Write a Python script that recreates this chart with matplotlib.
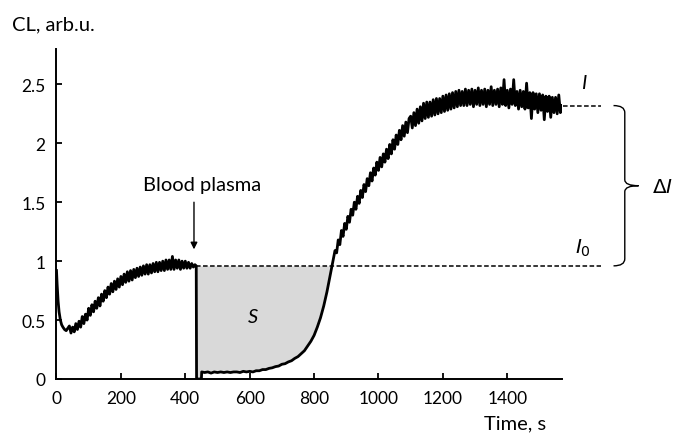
import matplotlib
matplotlib.use("Agg")
import matplotlib.pyplot as plt
from matplotlib.path import Path
from matplotlib.patches import PathPatch
import numpy as np

# chemiluminescence trace
t_pre = [0, 2, 5, 8, 12, 16, 20, 25, 30, 35,
         40, 45, 50, 55, 60, 65, 70, 75, 80, 85, 90, 95, 100, 105, 110, 115, 120, 125, 130, 135,
         140, 145, 150, 155, 160, 165, 170, 175, 180, 185, 190, 195, 200, 205, 210, 215, 220, 225, 230, 235,
         240, 245, 250, 255, 260, 265, 270, 275, 280, 285, 290, 295, 300, 305, 310, 315, 320, 325, 330, 335,
         340, 345, 350, 355, 360, 365, 370, 375, 380, 385, 390, 395, 400, 405, 410, 415, 420, 425, 430, 434]
cl_pre = [0.92, 0.80, 0.66, 0.57, 0.50, 0.46, 0.44, 0.42, 0.41, 0.43,
          0.45, 0.39, 0.44, 0.40, 0.47, 0.42, 0.49, 0.44, 0.53, 0.47, 0.55, 0.50, 0.60, 0.54, 0.63, 0.57, 0.66, 0.60, 0.69, 0.62,
          0.72, 0.66, 0.75, 0.69, 0.78, 0.72, 0.81, 0.74, 0.83, 0.76, 0.85, 0.78, 0.87, 0.80, 0.89, 0.82, 0.91, 0.83, 0.92, 0.84,
          0.93, 0.86, 0.94, 0.87, 0.95, 0.88, 0.96, 0.89, 0.97, 0.89, 0.97, 0.90, 0.98, 0.91, 0.99, 0.91, 0.99, 0.92, 1.00, 0.92,
          1.01, 0.93, 1.01, 0.93, 1.04, 0.93, 1.01, 0.94, 1.01, 0.93, 1.00, 0.94, 1.00, 0.94, 0.99, 0.94, 0.98, 0.95, 0.97, 0.96]

t_gap = [435, 450, 451]
cl_gap = [0.0, 0.0, 0.06]

t_low = [460, 470, 480, 490, 500, 510, 520, 530, 540, 550, 560, 570, 580, 590,
         600, 610, 620, 630, 640, 650, 660, 670, 680, 690, 700, 710, 720, 730,
         740, 750, 760, 770, 780, 790, 800, 810, 820, 830, 840, 850]
cl_low = [0.055, 0.06, 0.05, 0.06, 0.055, 0.06, 0.055, 0.06, 0.055, 0.06, 0.06,
          0.055, 0.065, 0.06, 0.065, 0.06, 0.07, 0.07, 0.08, 0.08, 0.09, 0.095,
          0.105, 0.11, 0.125, 0.13, 0.145, 0.155, 0.175, 0.19, 0.215, 0.24, 0.28,
          0.32, 0.37, 0.44, 0.52, 0.62, 0.74, 0.88]

t_rise = [860, 865, 870, 875, 880, 885, 890, 895, 900, 905, 910, 915, 920, 925, 930, 935,
          940, 945, 950, 955, 960, 965, 970, 975, 980, 985, 990, 995, 1000, 1005, 1010, 1015,
          1020, 1025, 1030, 1035, 1040, 1045, 1050, 1055, 1060, 1065, 1070, 1075, 1080, 1085, 1090, 1095]
cl_rise = [1.02, 1.09, 1.07, 1.18, 1.14, 1.26, 1.21, 1.32, 1.27, 1.38, 1.33, 1.44, 1.39, 1.50, 1.44, 1.55,
           1.49, 1.60, 1.54, 1.65, 1.59, 1.70, 1.64, 1.75, 1.68, 1.79, 1.73, 1.84, 1.77, 1.88, 1.80, 1.91,
           1.84, 1.95, 1.87, 1.99, 1.91, 2.03, 1.95, 2.07, 1.99, 2.11, 2.03, 2.15, 2.06, 2.18, 2.09, 2.21]

t_top = [1100, 1105, 1110, 1115, 1120, 1125, 1130, 1135, 1140, 1145, 1150, 1155, 1160, 1165, 1170, 1175,
         1180, 1185, 1190, 1195, 1200, 1205, 1210, 1215, 1220, 1225, 1230, 1235, 1240, 1245, 1250, 1255,
         1260, 1265, 1270, 1275, 1280, 1285, 1290, 1295, 1300, 1305, 1310, 1315, 1320, 1325, 1330, 1335,
         1340, 1345, 1350, 1355, 1360, 1365, 1370, 1375, 1380, 1385, 1390, 1395, 1400, 1405, 1410, 1415,
         1420, 1425, 1430, 1435, 1440, 1445, 1450, 1455, 1460, 1465, 1470, 1475, 1480, 1485, 1490, 1495,
         1500, 1505, 1510, 1515, 1520, 1525, 1530, 1535, 1540, 1545, 1550, 1555, 1560, 1565, 1570]
cl_top = [2.23, 2.13, 2.26, 2.15, 2.29, 2.17, 2.31, 2.19, 2.34, 2.21, 2.35, 2.22, 2.35, 2.23, 2.37, 2.24,
          2.38, 2.25, 2.38, 2.26, 2.40, 2.27, 2.41, 2.28, 2.42, 2.29, 2.43, 2.30, 2.44, 2.31, 2.45, 2.32,
          2.44, 2.32, 2.46, 2.32, 2.45, 2.33, 2.46, 2.31, 2.45, 2.33, 2.47, 2.32, 2.45, 2.33, 2.46, 2.31,
          2.45, 2.33, 2.48, 2.32, 2.45, 2.33, 2.46, 2.31, 2.47, 2.33, 2.54, 2.32, 2.45, 2.30, 2.46, 2.33,
          2.54, 2.32, 2.44, 2.29, 2.45, 2.31, 2.44, 2.29, 2.51, 2.30, 2.43, 2.21, 2.43, 2.29, 2.42, 2.26,
          2.42, 2.28, 2.41, 2.20, 2.40, 2.27, 2.40, 2.22, 2.39, 2.26, 2.39, 2.25, 2.41, 2.26, 2.32]

I0 = 0.96
I_end = 2.32
t_inject = 434
t_cross = 856

t = np.array(t_pre + t_gap + t_low + t_rise + t_top, dtype=float)
cl = np.array(cl_pre + cl_gap + cl_low + cl_rise + cl_top)

plt.rcParams['font.family'] = ['Lato', 'DejaVu Sans']

fig = plt.figure(figsize=(6.73, 4.35), dpi=100)
ax = fig.add_axes([56.5 / 673, 55 / 435, 505.5 / 673, 330 / 435])

# area S
mask = (t >= t_inject) & (t <= t_cross)
ax.fill_between(t, cl, I0, where=mask, interpolate=True, color='#d9d9d9', lw=0)

ax.plot(t, cl, color='black', lw=2.0)

# dashed reference levels
ax.plot([t_inject, 1690], [I0, I0], color='black', lw=1.1, ls=(0, (3, 1.6)),
        clip_on=False)
ax.plot([1572, 1690], [I_end, I_end], color='black', lw=1.1, ls=(0, (3, 1.6)),
        clip_on=False)

# curly brace for delta I
xb, xt = 1765, 1808
ym = (I0 + I_end) / 2
verts = [(1730, I_end), (xb, I_end), (xb, I_end - 0.06),
         (xb, ym + 0.05),
         (xb, ym), (xt, ym),
         (xb, ym), (xb, ym - 0.05),
         (xb, I0 + 0.06),
         (xb, I0), (1730, I0)]
codes = [Path.MOVETO, Path.CURVE3, Path.CURVE3, Path.LINETO,
         Path.CURVE3, Path.CURVE3, Path.CURVE3, Path.CURVE3,
         Path.LINETO, Path.CURVE3, Path.CURVE3]
ax.add_patch(PathPatch(Path(verts, codes), fill=False, lw=1.0, color='black',
                       clip_on=False))

fs = 14.5
ax.text(1848, ym, r'$\Delta$$\it{I}$', fontsize=fs, va='center', ha='left',
        clip_on=False)
ax.text(1630, 2.52, 'I', fontsize=fs, style='italic', va='center', ha='left')
ax.text(1610, 1.12, r'$\it{I}_0$', fontsize=fs, va='center', ha='left')
ax.text(610, 0.53, 'S', fontsize=fs, style='italic', va='center', ha='center')

ax.annotate('', xy=(427, 1.10), xytext=(427, 1.50),
            arrowprops=dict(arrowstyle='-|>', color='black', lw=1.0,
                            mutation_scale=10, shrinkA=0, shrinkB=0))
ax.text(269, 1.65, 'Blood plasma', fontsize=fs, va='center', ha='left')

ax.set_xlim(0, 1570)
ax.set_ylim(0, 2.8)
ax.set_xticks([0, 200, 400, 600, 800, 1000, 1200, 1400])
ax.set_yticks([0, 0.5, 1, 1.5, 2, 2.5])
ax.set_yticklabels(['0', '0.5', '1', '1.5', '2', '2.5'])
ax.tick_params(direction='in', length=4, width=1.3, labelsize=12.5, pad=8)
for side in ['top', 'right']:
    ax.spines[side].set_visible(False)
for side in ['left', 'bottom']:
    ax.spines[side].set_linewidth(1.4)

fig.text(12 / 673, 1 - 25 / 435, 'CL, arb.u.', fontsize=fs, va='center', ha='left')
fig.text(546 / 673, 1 - 424 / 435, 'Time, s', fontsize=fs, va='center', ha='right')

fig.savefig('out.png', dpi=100)
